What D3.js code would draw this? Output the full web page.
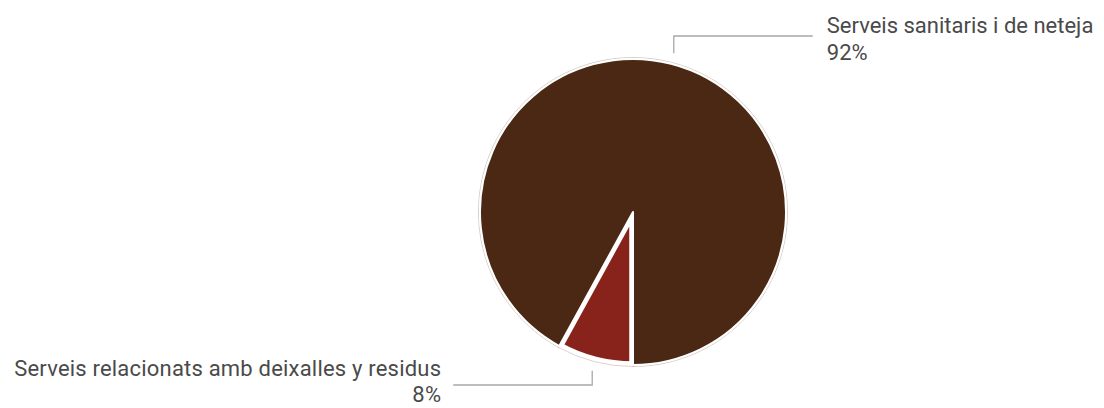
<!DOCTYPE html>
<html>
<head>
<meta charset="utf-8">
<script src="https://cdn.jsdelivr.net/npm/d3@7"></script>
<style>
  html, body { margin: 0; padding: 0; background: #ffffff; }
  svg { display: block; }
  .lbl { font-family: Roboto, "Noto Sans", sans-serif; font-size: 22px; fill: #4a4a4a; }
</style>
</head>
<body>
<svg id="chart" width="1104" height="408"></svg>
<script>
// Slices, listed in drawing order starting from the bottom of the circle
const categories = ["Serveis relacionats amb deixalles y residus", "Serveis sanitaris i de neteja"];
const values = [8, 92];
const percentLabels = ["8%", "92%"];
const colors = ["#88231b", "#4a2813"];

const W = 1104, H = 408;
const cx = 633, cy = 212, R = 153;

const svg = d3.select("#chart");
const g = svg.append("g").attr("transform", `translate(${cx},${cy})`);

const pie = d3.pie().sort(null).startAngle(Math.PI).endAngle(3 * Math.PI);
const arcs = pie(values);

const arc = d3.arc().innerRadius(0).outerRadius(R);
const halo = d3.arc().innerRadius(0).outerRadius(R + 1.5);

// small slice sits under the large one with a wide white border
g.append("path")
  .attr("d", arc(arcs[0]))
  .attr("fill", colors[0])
  .attr("stroke", "#ffffff")
  .attr("stroke-width", 7.5)
  .attr("stroke-linejoin", "round");

// faint rim around each slice
g.selectAll("path.halo")
  .data(arcs)
  .join("path")
  .attr("class", "halo")
  .attr("d", halo)
  .attr("fill", "none")
  .attr("stroke", (d, i) => colors[i])
  .attr("stroke-opacity", 0.22)
  .attr("stroke-width", 1);

g.append("path")
  .attr("d", arc(arcs[1]))
  .attr("fill", colors[1])
  .attr("stroke", "#ffffff")
  .attr("stroke-width", 2)
  .attr("stroke-linejoin", "round");

// connectors and labels
const labelY = [385, 36];
const textShift = [-9, -3];
const lineGap = [26, 27];
const armLen = 139;
arcs.forEach((d, i) => {
  const mid = (d.startAngle + d.endAngle) / 2;
  const r0 = R + 11;
  const x0 = r0 * Math.sin(mid);
  const y0 = -r0 * Math.cos(mid);
  const side = Math.sin(mid) >= 0 ? 1 : -1;
  const ey = labelY[i] - cy;
  const x1 = x0 + side * armLen;
  g.append("path")
    .attr("d", `M${x0},${y0}L${x0},${ey}L${x1},${ey}`)
    .attr("fill", "none")
    .attr("stroke", "#a8a8a8")
    .attr("stroke-width", 1.3);

  const tx = x1 + side * (side > 0 ? 14 : 12);
  const t = g.append("text")
    .attr("class", "lbl")
    .attr("text-anchor", side > 0 ? "start" : "end")
    .attr("letter-spacing", side > 0 ? 0 : 0.2)
    .attr("x", tx)
    .attr("y", ey + textShift[i]);
  t.append("tspan").text(categories[i]);
  t.append("tspan")
    .attr("x", tx)
    .attr("dy", lineGap[i])
    .text(percentLabels[i]);
});
</script>
</body>
</html>
